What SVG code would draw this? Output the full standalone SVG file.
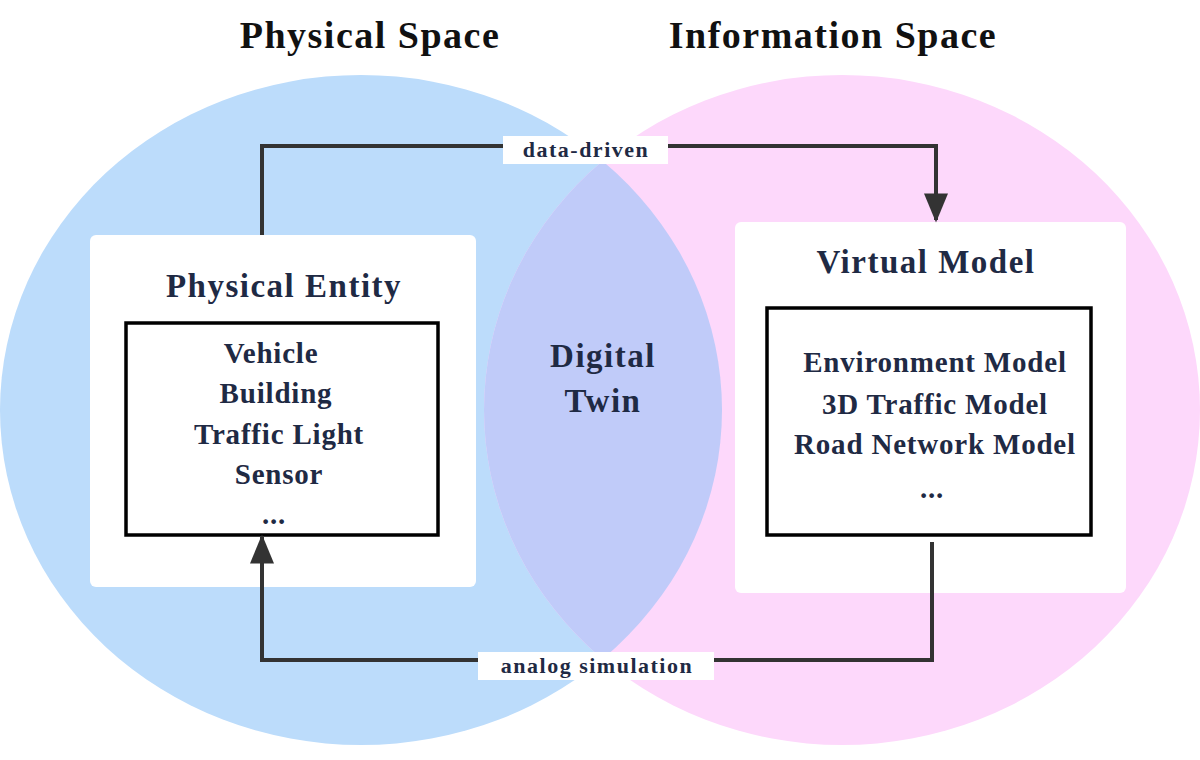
<svg xmlns="http://www.w3.org/2000/svg" width="1200" height="760" viewBox="0 0 1200 760">
<style>
text{font-family:"Liberation Serif","Times New Roman",serif;font-weight:bold;fill:#1f2a44;text-anchor:middle}
.t{font-size:38px;fill:#111;letter-spacing:1.5px}
.h{font-size:33px;letter-spacing:1.5px}
.i{font-size:29px;letter-spacing:0.8px}
.l{font-size:22px;letter-spacing:1.5px}
.w{fill:#fff}
.c{fill:none;stroke:#333;stroke-width:4}
</style>
<defs>
<marker id="a" viewBox="0 0 12 10" refX="11" refY="5" markerWidth="8" markerHeight="6" orient="auto" markerUnits="strokeWidth"><path d="M0,0L12,5L0,10z" fill="#333"/></marker>
<clipPath id="cl"><ellipse cx="361" cy="410" rx="361" ry="335"/></clipPath>
</defs>
<g id="spaces">
<ellipse cx="361" cy="410" rx="361" ry="335" fill="#bcdcfb"/>
<ellipse cx="842" cy="410" rx="358" ry="335" fill="#fdd8fb"/>
<ellipse cx="842" cy="410" rx="358" ry="335" fill="#c0cbf9" clip-path="url(#cl)"/>
<text class="t" x="370" y="48">Physical Space</text>
<text class="t" x="833" y="48">Information Space</text>
<text class="h" x="603" y="367">Digital</text>
<text class="h" x="603" y="412">Twin</text>
</g>
<g id="physical">
<rect class="w" x="90" y="235" width="386" height="352" rx="6"/>
<text class="h" x="284" y="297">Physical Entity</text>
<rect x="126" y="323" width="312" height="212" fill="#fff" stroke="#000" stroke-width="3.5"/>
<text class="i" x="271" y="363">Vehicle</text>
<text class="i" x="276" y="403">Building</text>
<text class="i" x="279" y="444">Traffic Light</text>
<text class="i" x="279" y="484">Sensor</text>
<text class="i" x="274" y="524">...</text>
</g>
<g id="virtual">
<rect class="w" x="735" y="222" width="391" height="371" rx="6"/>
<text class="h" x="926" y="273">Virtual Model</text>
<rect x="767" y="308" width="324" height="227" fill="#fff" stroke="#000" stroke-width="3.5"/>
<text class="i" x="935" y="372">Environment Model</text>
<text class="i" x="935" y="414">3D Traffic Model</text>
<text class="i" x="935" y="454">Road Network Model</text>
<text class="i" x="932" y="498">...</text>
</g>
<g id="connectors">
<path class="c" d="M262,235V146H936V220" marker-end="url(#a)"/>
<path class="c" d="M932,542V660H262V537" marker-end="url(#a)"/>
<rect class="w" x="503" y="136" width="165" height="28"/>
<text class="l" x="586" y="157">data-driven</text>
<rect class="w" x="478" y="652" width="236" height="28"/>
<text class="l" x="597" y="673">analog simulation</text>
</g>
</svg>
